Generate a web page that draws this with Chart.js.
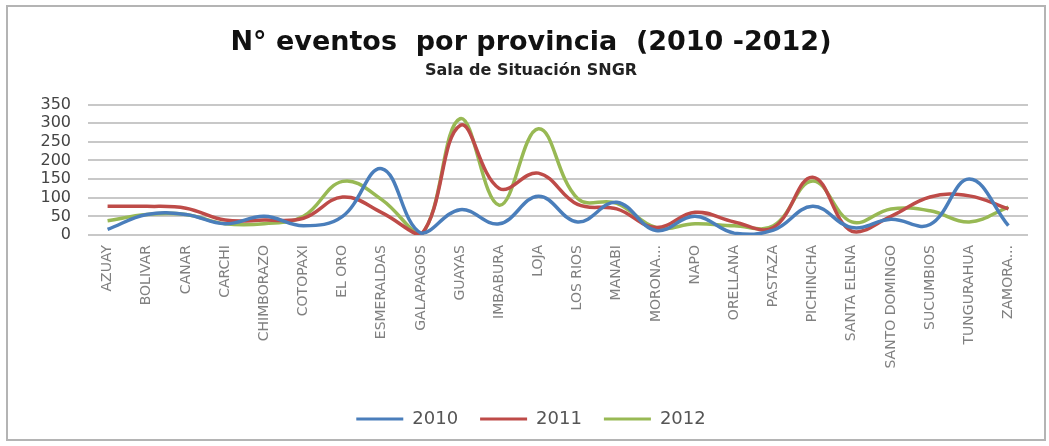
<!DOCTYPE html>
<html>
<head>
<meta charset="utf-8">
<script src="https://cdn.jsdelivr.net/npm/chart.js@4"></script>
<style>
  body { margin: 0; background: #fff; }
  #box { position: absolute; left: 6px; top: 5px; width: 1036px; height: 432px; border: 2px solid #b4b4b4; }
  canvas { position: absolute; left: 0; top: 0; }
</style>
</head>
<body>
<div id="box"><canvas id="myChart" width="1036" height="432"></canvas></div>
<script>
// provinces on the x axis
var provincias = ["AZUAY", "BOLIVAR", "CANAR", "CARCHI", "CHIMBORAZO", "COTOPAXI", "EL ORO",
  "ESMERALDAS", "GALAPAGOS", "GUAYAS", "IMBABURA", "LOJA", "LOS RIOS", "MANABI", "MORONA...",
  "NAPO", "ORELLANA", "PASTAZA", "PICHINCHA", "SANTA ELENA", "SANTO DOMINGO", "SUCUMBIOS",
  "TUNGURAHUA", "ZAMORA..."];

// events per year
var eventos2010 = [15, 55, 55, 30, 50, 25, 50, 178, 5, 68, 30, 104, 35, 88, 12, 50, 5, 13, 77, 20, 42, 28, 150, 25];
var eventos2011 = [77, 77, 72, 40, 40, 45, 102, 60, 0, 294, 125, 166, 82, 70, 20, 61, 35, 20, 155, 10, 50, 102, 105, 70];
var eventos2012 = [38, 55, 55, 30, 30, 50, 144, 95, 0, 312, 80, 285, 98, 85, 20, 30, 25, 25, 145, 35, 70, 65, 35, 75];

var series = [
  { label: "2010", data: eventos2010, color: "#4a7ebb" },
  { label: "2011", data: eventos2011, color: "#be4b48" },
  { label: "2012", data: eventos2012, color: "#98b954" }
];

var ctx = document.getElementById("myChart").getContext("2d");
var chart = new Chart(ctx, {
  type: "line",
  data: {
    labels: provincias,
    datasets: series.map(function (s) {
      return {
        label: s.label,
        data: s.data,
        borderColor: s.color,
        backgroundColor: s.color,
        borderWidth: 3.5,
        pointRadius: 0,
        tension: 0.4,
        fill: false
      };
    })
  },
  options: {
    responsive: false,
    animation: false,
    layout: { padding: { left: 26, right: 16, top: 14, bottom: 1 } },
    plugins: {
      title: {
        display: true,
        text: "N° eventos  por provincia  (2010 -2012)",
        font: { family: "DejaVu Sans", size: 27, weight: "bold" },
        color: "#111",
        padding: { top: 6, bottom: 0 }
      },
      subtitle: {
        display: true,
        text: "Sala de Situación SNGR",
        font: { family: "DejaVu Sans", size: 16, weight: "bold" },
        color: "#222",
        padding: { top: 2, bottom: 24 }
      },
      legend: {
        position: "bottom",
        labels: {
          boxWidth: 47,
          boxHeight: 3,
          font: { family: "DejaVu Sans", size: 18 },
          color: "#555",
          padding: 22,
          generateLabels: function (c) {
            var items = Chart.defaults.plugins.legend.labels.generateLabels(c);
            items.forEach(function (it) { it.lineWidth = 0; });
            return items;
          }
        }
      },
      tooltip: { enabled: false }
    },
    scales: {
      x: {
        offset: true,
        grid: { display: false },
        border: { display: false },
        afterFit: function (scale) { scale.height = 153; },
        ticks: {
          minRotation: 90,
          maxRotation: 90,
          autoSkip: false,
          font: { family: "DejaVu Sans", size: 14 },
          color: "#808080",
          padding: 2
        }
      },
      y: {
        min: 0,
        max: 350,
        grid: { color: "#c8c8c8", lineWidth: 2, drawTicks: false },
        border: { display: false },
        afterFit: function (scale) { scale.width = 54; },
        ticks: {
          stepSize: 50,
          autoSkip: false,
          font: { family: "DejaVu Sans", size: 16 },
          color: "#444",
          padding: 17
        }
      }
    }
  }
});
</script>
</body>
</html>
